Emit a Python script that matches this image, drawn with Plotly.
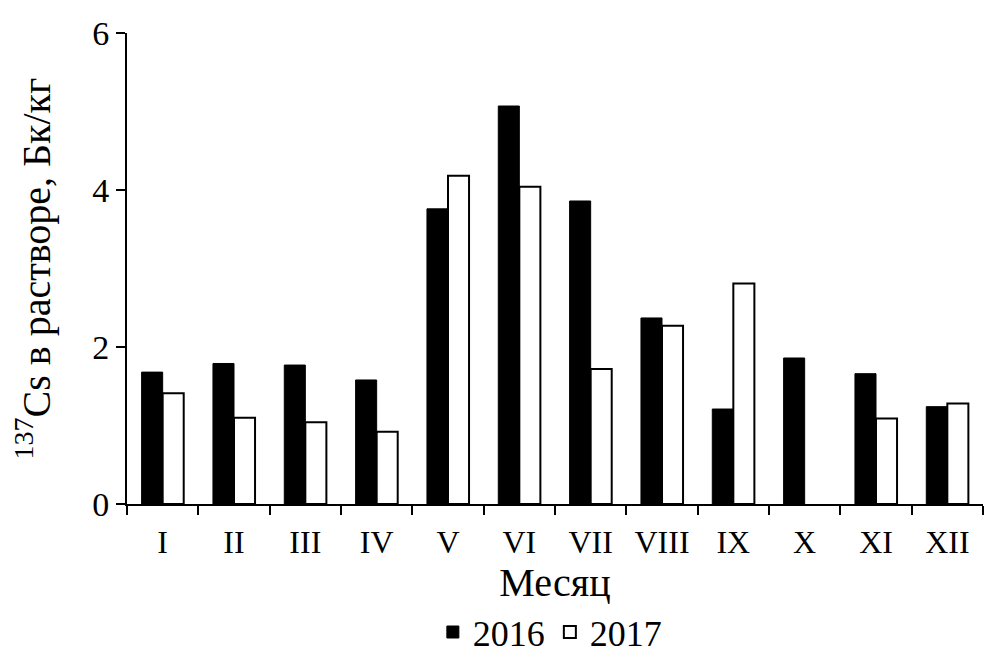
import plotly.graph_objects as go

months = ["I", "II", "III", "IV", "V", "VI", "VII", "VIII", "IX", "X", "XI", "XII"]
cs_2016 = [1.68, 1.79, 1.77, 1.58, 3.76, 5.07, 3.86, 2.37, 1.21, 1.86, 1.66, 1.24]
cs_2017 = [1.41, 1.10, 1.04, 0.92, 4.18, 4.04, 1.72, 2.27, 2.81, None, 1.09, 1.28]
y_ticks = [0, 2, 4, 6]

font_family = "Liberation Serif"

fig = go.Figure()
fig.add_trace(go.Bar(x=months, y=cs_2016, name="2016",
                     marker=dict(color="black", line=dict(color="black", width=1))))
fig.add_trace(go.Bar(x=months, y=cs_2017, name="2017",
                     marker=dict(color="white", line=dict(color="black", width=2))))

fig.update_layout(
    width=1000, height=657,
    paper_bgcolor="white", plot_bgcolor="white",
    margin=dict(l=119, r=25, t=25, b=161, autoexpand=False),
    barmode="group", bargap=0.41, bargroupgap=0,
    font=dict(family=font_family, color="black"),
    showlegend=True,
    legend=dict(orientation="h", x=0.494, xanchor="center", y=-0.272, yanchor="middle",
                font=dict(size=36, family=font_family), itemwidth=30,
                traceorder="normal"),
)
fig.update_xaxes(
    showline=True, linecolor="black", linewidth=2, automargin=False,
    ticks="outside", tickson="boundaries", ticklen=9, tickwidth=2, tickcolor="black",
    ticklabelstandoff=9,
    tickfont=dict(size=32, family=font_family),
    title=dict(text="Месяц", font=dict(size=40, family=font_family), standoff=4),
    showgrid=False, zeroline=False,
)
fig.update_yaxes(
    range=[0, 6], tickvals=y_ticks, ticktext=[str(v) for v in y_ticks],
    showline=True, linecolor="black", linewidth=2, automargin=False,
    ticks="outside", ticklen=9, tickwidth=2, tickcolor="black",
    tickfont=dict(size=34, family=font_family),
    title=dict(text="<sup>137</sup>Cs в растворе, Бк/кг", font=dict(size=40, family=font_family), standoff=30),
    showgrid=False, zeroline=False,
)

fig.write_html("out.html")
